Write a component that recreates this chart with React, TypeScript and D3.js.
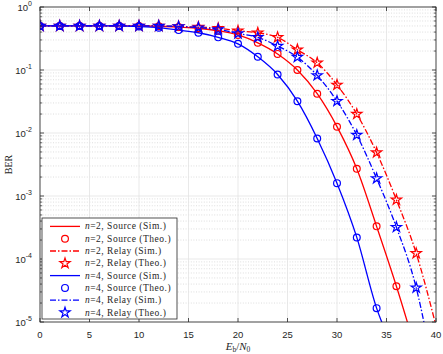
import React from "react";
import * as d3 from "d3";

// Eb/N0 points (dB)
const snr = [0, 2, 4, 6, 8, 10, 12, 14, 16, 18, 20, 22, 24, 26, 28, 30, 32, 34, 36, 38, 40];

// theory markers
const n2SourceTheo = [0.5, 0.5, 0.5, 0.5, 0.5, 0.5, 0.495, 0.48, 0.46, 0.42, 0.36, 0.27, 0.18, 0.1, 0.042, 0.0126, 0.0027, 3.3e-4, 3.7e-5];
const n2RelayTheo = [0.5, 0.5, 0.5, 0.5, 0.5, 0.5, 0.5, 0.49, 0.48, 0.46, 0.42, 0.39, 0.33, 0.21, 0.13, 0.058, 0.02, 0.0049, 8.7e-4, 1.23e-4];
const n4SourceTheo = [0.5, 0.5, 0.5, 0.5, 0.5, 0.49, 0.47, 0.43, 0.39, 0.33, 0.26, 0.162, 0.085, 0.032, 0.0082, 0.0016, 2.2e-4, 1.66e-5];
const n4RelayTheo = [0.5, 0.5, 0.5, 0.5, 0.5, 0.5, 0.5, 0.49, 0.47, 0.44, 0.38, 0.33, 0.24, 0.16, 0.082, 0.032, 0.0093, 0.0019, 3.2e-4, 3.5e-5];

// simulation curves (run past the bottom of the axes)
const n2SourceSim = [...n2SourceTheo, 3.4e-6];
const n2RelaySim = [...n2RelayTheo, 8.7e-6];
const n4SourceSim = [...n4SourceTheo, 3e-6];
const n4RelaySim = [...n4RelayTheo, 1e-6];

const xTicks = [0, 5, 10, 15, 20, 25, 30, 35, 40];
const yExps = [0, -1, -2, -3, -4, -5];

const RED = "#ff0000";
const BLUE = "#0000ff";
const DASHDOT = "6,2,1.5,2";

const series = [
  { label: "=2, Source (Sim.)", n: "n", kind: "line", color: RED, dash: null, data: n2SourceSim },
  { label: "=2, Source (Theo.)", n: "n", kind: "circle", color: RED, dash: null, data: n2SourceTheo },
  { label: "=2, Relay (Sim.)", n: "n", kind: "line", color: RED, dash: DASHDOT, data: n2RelaySim },
  { label: "=2, Relay (Theo.)", n: "n", kind: "star", color: RED, dash: null, data: n2RelayTheo },
  { label: "=4, Source (Sim.)", n: "n", kind: "line", color: BLUE, dash: null, data: n4SourceSim },
  { label: "=4, Source (Theo.)", n: "n", kind: "circle", color: BLUE, dash: null, data: n4SourceTheo },
  { label: "=4, Relay (Sim.)", n: "n", kind: "line", color: BLUE, dash: DASHDOT, data: n4RelaySim },
  { label: "=4, Relay (Theo.)", n: "n", kind: "star", color: BLUE, dash: null, data: n4RelayTheo },
];

const W = 443, H = 354;
const L = 40, R = 436, T = 7, B = 322;

function starPath(r: number) {
  const pts: string[] = [];
  for (let i = 0; i < 10; i++) {
    const rad = i % 2 === 0 ? r : r * 0.382;
    const a = -Math.PI / 2 + (i * Math.PI) / 5;
    pts.push(`${(rad * Math.cos(a)).toFixed(2)},${(rad * Math.sin(a)).toFixed(2)}`);
  }
  return "M" + pts.join("L") + "Z";
}

function Marker({ kind, color, x, y }: { kind: string; color: string; x: number; y: number }) {
  if (kind === "circle")
    return <circle cx={x} cy={y} r={3.4} fill="none" stroke={color} strokeWidth={1.2} />;
  return <path d={starPath(5.4)} transform={`translate(${x},${y})`} fill="none" stroke={color} strokeWidth={1.2} />;
}

export default function App() {
  const x = d3.scaleLinear().domain([0, 40]).range([L, R]);
  const y = d3.scaleLog().domain([1e-5, 1]).range([B, T]);
  const lineGen = d3
    .line<number>()
    .x((_, i) => x(snr[i]))
    .y((d) => y(d))
    .curve(d3.curveMonotoneX);

  const minors: number[] = [];
  for (let e = -5; e < 0; e++) for (let k = 2; k <= 9; k++) minors.push(k * Math.pow(10, e));

  const axisColor = "#262626";
  const legX = 42, legY = 218, legW = 135, legH = 101;
  const rowY = (i: number) => 226.4 + i * 12.3;

  return (
    <div style={{ position: "absolute", left: 0, top: 0 }}>
      <svg width={W} height={H} style={{ display: "block", background: "#fff" }}>
        <defs>
          <clipPath id="plotClip">
            <rect x={L} y={T} width={R - L} height={B - T} />
          </clipPath>
        </defs>
        <rect x={L} y={T} width={R - L} height={B - T} fill="#fff" />
        {/* minor grid */}
        {minors.map((v) => (
          <line key={"mg" + v} x1={L} x2={R} y1={y(v)} y2={y(v)} stroke="#c8c8c8" strokeWidth={0.6} strokeDasharray="1,1.6" />
        ))}
        {/* major grid */}
        {xTicks.map((t) => (
          <line key={"xg" + t} x1={x(t)} x2={x(t)} y1={T} y2={B} stroke="#e3e3e3" strokeWidth={0.8} />
        ))}
        {yExps.map((e) => (
          <line key={"yg" + e} x1={L} x2={R} y1={y(Math.pow(10, e))} y2={y(Math.pow(10, e))} stroke="#e3e3e3" strokeWidth={0.8} />
        ))}

        <g clipPath="url(#plotClip)">
          {series
            .filter((s) => s.kind === "line")
            .map((s) => (
              <path key={s.label + s.color} d={lineGen(s.data) || ""} fill="none" stroke={s.color} strokeWidth={1.3} strokeDasharray={s.dash || undefined} />
            ))}
          {series
            .filter((s) => s.kind !== "line")
            .map((s) =>
              s.data
                .map((v, i) => ({ v, i }))
                .filter((p) => p.v >= 1e-5)
                .map((p) => <Marker key={s.label + s.color + p.i} kind={s.kind} color={s.color} x={x(snr[p.i])} y={y(p.v)} />)
            )}
        </g>

        {/* axes box and ticks */}
        <rect x={L} y={T} width={R - L} height={B - T} fill="none" stroke={axisColor} strokeWidth={0.8} />
        {xTicks.map((t) => (
          <g key={"xt" + t}>
            <line x1={x(t)} x2={x(t)} y1={B} y2={B - 4} stroke={axisColor} strokeWidth={0.8} />
            <line x1={x(t)} x2={x(t)} y1={T} y2={T + 4} stroke={axisColor} strokeWidth={0.8} />
            <text x={x(t)} y={338} textAnchor="middle" fontFamily="Liberation Sans, Arial, sans-serif" fontSize={9.5} fill={axisColor}>
              {t}
            </text>
          </g>
        ))}
        {yExps.map((e) => (
          <g key={"yt" + e}>
            <line x1={L} x2={L + 4} y1={y(Math.pow(10, e))} y2={y(Math.pow(10, e))} stroke={axisColor} strokeWidth={0.8} />
            <line x1={R} x2={R - 4} y1={y(Math.pow(10, e))} y2={y(Math.pow(10, e))} stroke={axisColor} strokeWidth={0.8} />
            <text x={32} y={y(Math.pow(10, e)) + 3.5} textAnchor="end" fontFamily="Liberation Sans, Arial, sans-serif" fontSize={9.5} fill={axisColor}>
              10
              <tspan dy={-4.5} fontSize={7}>
                {e === 0 ? "0" : "-" + Math.abs(e)}
              </tspan>
            </text>
          </g>
        ))}
        {minors.map((v) => (
          <g key={"mt" + v}>
            <line x1={L} x2={L + 2.2} y1={y(v)} y2={y(v)} stroke={axisColor} strokeWidth={0.7} />
            <line x1={R} x2={R - 2.2} y1={y(v)} y2={y(v)} stroke={axisColor} strokeWidth={0.7} />
          </g>
        ))}

        {/* axis labels */}
        <text x={(L + R) / 2} y={350} textAnchor="middle" fontFamily="Liberation Serif, serif" fontSize={11} fill={axisColor}>
          <tspan fontStyle="italic">E</tspan>
          <tspan fontSize={7.5} dy={2}>b</tspan>
          <tspan dy={-2}>/</tspan>
          <tspan fontStyle="italic">N</tspan>
          <tspan fontSize={7.5} dy={2}>0</tspan>
        </text>
        <text transform={`translate(12,${(T + B) / 2}) rotate(-90)`} textAnchor="middle" fontFamily="Liberation Serif, serif" fontSize={10} fill={axisColor}>
          BER
        </text>

        {/* legend */}
        <rect x={legX} y={legY} width={legW} height={legH} fill="#fff" stroke={axisColor} strokeWidth={0.8} />
        {series.map((s, i) => (
          <g key={"lg" + i}>
            {s.kind === "line" ? (
              <line x1={50} x2={80} y1={rowY(i)} y2={rowY(i)} stroke={s.color} strokeWidth={1.3} strokeDasharray={s.dash || undefined} />
            ) : (
              <Marker kind={s.kind} color={s.color} x={65} y={rowY(i)} />
            )}
            <text x={85} y={rowY(i) + 3} fontFamily="Liberation Serif, serif" fontSize={9.5} letterSpacing={0.5} fill={axisColor}>
              <tspan fontStyle="italic">{s.n}</tspan>
              {s.label}
            </text>
          </g>
        ))}
      </svg>
    </div>
  );
}
